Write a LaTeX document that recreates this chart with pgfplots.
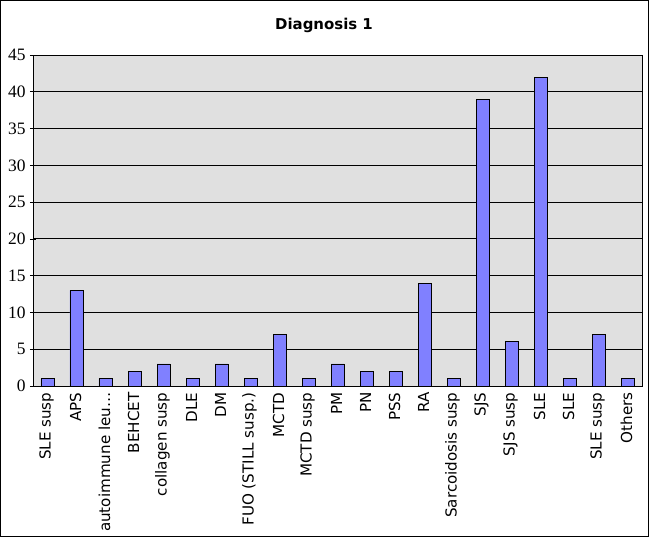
\documentclass[border=0pt]{standalone}
\usepackage{pgfplots}
\pgfplotsset{compat=1.18}
\usepackage{fontspec}
\setmainfont{Liberation Serif}
\newfontfamily\dejavu{DejaVu Sans}
\definecolor{barblue}{RGB}{128,128,255}
\definecolor{plotgray}{RGB}{224,224,224}
\begin{document}
\begin{tikzpicture}
\useasboundingbox (-33bp,-151bp) rectangle (616bp,386bp);
\begin{axis}[
  at={(0,0)}, anchor=south west,
  scale only axis, width=609bp, height=331bp,
  xmin=-0.5, xmax=20.5, ymin=0, ymax=45,
  ytick={0,5,...,45},
  xtick={0,...,20},
  xticklabels={SLE susp, APS, autoimmune leu\ldots, BEHCET, collagen susp, DLE, DM, FUO (STILL susp.), MCTD, MCTD susp, PM, PN, PSS, RA, Sarcoidosis susp, SJS, SJS susp, SLE, SLE, SLE susp, Others},
  axis background/.style={fill=plotgray},
  ymajorgrids, grid style={black, line width=0.8bp},
  axis line style={black, line width=0.8bp},
  xtick pos=bottom, ytick pos=left,
  tick align=center,
  major tick length=6bp,
  xtick style={draw=none},
  minor xtick={-0.5,0.5,...,20.5},
  minor tick length=5bp,
  minor x tick style={yshift=-2.5bp, black, line width=0.6bp},
  ytick style={black, line width=0.6bp},
  /pgf/number format/assume math mode=true,
  yticklabel style={font=\fontsize{17.5}{17.5}\selectfont, xshift=-1bp},
  xticklabel style={rotate=90, anchor=east, font=\dejavu\fontsize{15.2}{16}\selectfont, yshift=1bp},
]
\addplot[ybar, bar width=13bp, fill=barblue, draw=black, line width=0.8bp] coordinates {
 (0,1) (1,13) (2,1) (3,2) (4,3) (5,1) (6,3) (7,1) (8,7) (9,1) (10,3)
 (11,2) (12,2) (13,14) (14,1) (15,39) (16,6) (17,42) (18,1) (19,7) (20,1)};
\end{axis}
\node[font=\dejavu\bfseries\fontsize{15}{15}\selectfont, anchor=base] at (291bp,356bp) {Diagnosis 1};
\draw[black, line width=1.2bp] (-32.4bp,-150.4bp) rectangle (615.4bp,385.4bp);
\end{tikzpicture}
\end{document}
